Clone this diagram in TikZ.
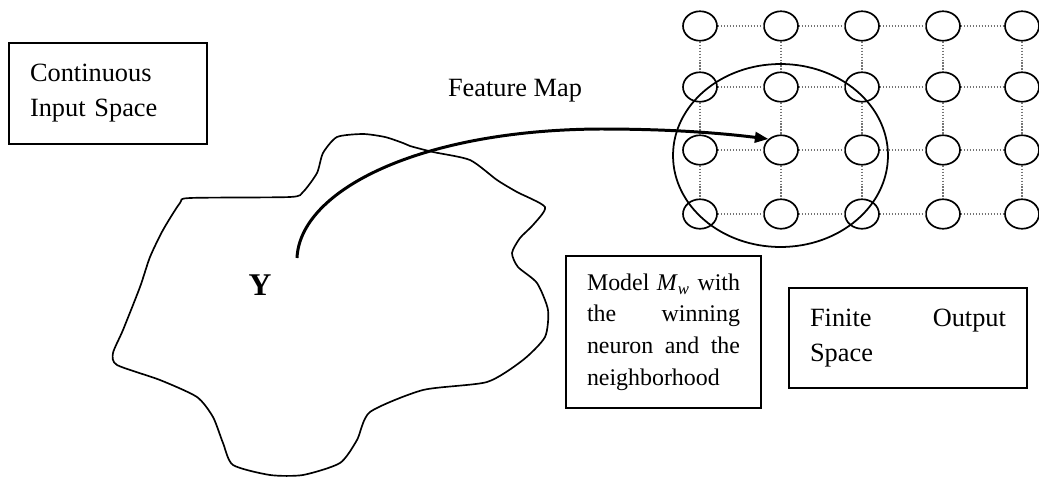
\documentclass[tikz,border=0pt]{standalone}
\usepackage{fontspec}
\setmainfont{Liberation Serif}
\usepackage{tikz}
\usetikzlibrary{shapes.geometric,arrows.meta,positioning}

\begin{document}
\begin{tikzpicture}[
        x=0.02cm, y=-0.02cm,
        box/.style={draw, line width=0.8pt, inner xsep=0.42cm, inner ysep=0pt},
        neuron/.style={draw, ellipse, line width=0.95pt, minimum width=0.68cm, minimum height=0.59cm, inner sep=0pt},
        link/.style={draw=black!55, densely dotted, line width=0.7pt},
        feature/.style={line width=1.7pt, -{Triangle[length=0.27cm, width=0.21cm]}}
    ]
    \useasboundingbox (0,0) rectangle (1039,477);

    % input space
    \node[box, text width=3.12cm, minimum height=2.02cm, align=left,
          font=\fontsize{15}{19.9}\selectfont] (input) at (108,93.5)
        {Continuous\\Input Space};

    \draw[line width=0.95pt] plot[smooth cycle, tension=0.4] coordinates {
        (337,137) (363,134) (385,137) (403,143) (410,146) (433,152) (470,160)
        (497,180) (517,192) (545,207) (533,225) (520,238) (512,253) (518,267)
        (537,283) (548,310) (545,337) (523,360) (487,382) (423,390) (370,412)
        (357,440) (340,463) (303,475) (270,475) (233,465) (223,443) (213,417)
        (197,397) (160,380) (117,365) (113,353) (123,330) (140,287) (150,257)
        (163,230) (180,203) (190,198) (290,197) (303,192) (317,173) (323,153)};
    \node[font=\fontsize{18}{20}\selectfont\bfseries] (ylab) at (260,285) {Y};

    % output grid
    \foreach \gx [count=\i] in {700,781,862,943,1022}
        \foreach \gy [count=\j] in {26,87,150,214}
            \node[neuron] (n\i\j) at (\gx,\gy) {};
    \foreach \i/\k in {1/2,2/3,3/4,4/5}
        \foreach \j in {1,...,4}
            \draw[link] (n\i\j) -- (n\k\j);
    \foreach \i in {1,...,5}
        \foreach \j/\k in {1/2,2/3,3/4}
            \draw[link] (n\i\j) -- (n\i\k);

    \node[draw, ellipse, line width=1pt, minimum width=4.3cm, minimum height=3.66cm] (hood) at (780.5,155.5) {};

    % mapping
    \coordinate (src) at (297,258);
    \draw[feature] (src) .. controls (300,190) and (420,130) .. (600,129)
        .. controls (670,129) and (720,133) .. (n23.north west);
    \node[font=\fontsize{15}{18}\selectfont] (maplab) at (515,91) {Feature Map};

    \node[box, text width=3.06cm, minimum height=3.04cm, align=left,
          font=\fontsize{13.6}{18}\selectfont] (model) at (663.5,332)
        {Model\hfill\textit{M}\textsubscript{\textit{w}}\hfill with\\the\hfill winning\\neuron\hfill and\hfill the\\neighborhood};
    \node[box, text width=3.92cm, minimum height=2cm, align=left,
          font=\fontsize{15}{19.9}\selectfont] (output) at (908,338)
        {Finite\hfill Output\\Space};
\end{tikzpicture}
\end{document}
